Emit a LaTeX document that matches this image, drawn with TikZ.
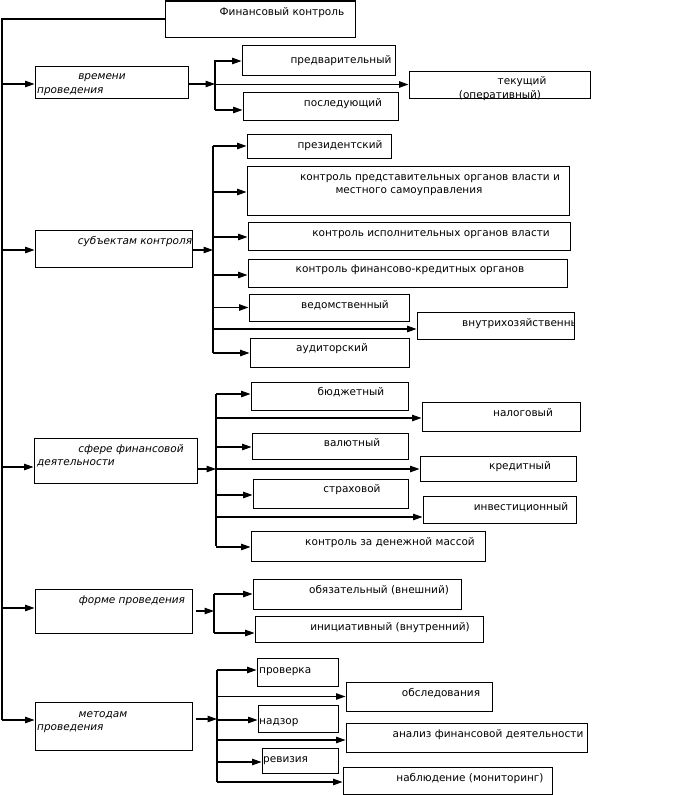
\documentclass[tikz,border=0pt]{standalone}
\usepackage{fontspec}
\setmainfont{DejaVu Sans}
\usetikzlibrary{arrows.meta}
\tikzset{
  x=1pt, y=-1pt,
  box/.style={draw=black, line width=1pt, inner sep=0pt, rectangle},
  txt/.style={inner sep=0pt, anchor=base, font=\fontsize{10.5}{12}\selectfont},
  txtw/.style={txt, anchor=base west},
  cat/.style={txt, font=\fontsize{10.5}{12}\selectfont\itshape},
  catw/.style={cat, anchor=base west},
  ln/.style={line width=1.1pt, black},
  arr/.style={ln, -{Triangle[length=9.5pt,width=6.5pt]}},
}
% \mybox{name}{x1}{y1}{x2}{y2}
\newcommand\mybox[5]{%
  \node[box, minimum width={(#4-#2)*1pt}, minimum height={(#5-#3)*1pt}]
    (#1) at ({(#2+#4)/2},{(#3+#5)/2}) {};}
% \harrow{bus}{box}{dy}: arrow from bus to the west side of box, shifted dy down
\newcommand\harrow[3]{%
  \coordinate (hh) at ([yshift={-(#3)*1pt}]#2.west);
  \draw[arr] (hh -| #1) -- (hh);}
% \outarrow{cat}{bus}{dy}{gap}
\newcommand\outarrow[4]{%
  \coordinate (oo) at ([yshift={-(#3)*1pt},xshift={(#4)*1pt}]#1.east);
  \draw[arr] (oo) -- (oo -| #2);}
% \inarrow{cat}{dy}
\newcommand\inarrow[2]{%
  \coordinate (ii) at ([yshift={-(#2)*1pt}]#1.west);
  \draw[arr] (ii -| tr) -- (ii);}
\begin{document}
\begin{tikzpicture}
\useasboundingbox (0,0) rectangle (673,795);

% ---------- boxes ----------
\mybox{top}{165}{1}{355}{37}
\mybox{c1}{35}{66}{188}{98}
\mybox{p1}{242}{45}{395}{75}
\mybox{p2}{243}{92}{398}{120}
\mybox{p3}{409}{71}{590}{98}
\mybox{c2}{35}{230}{192}{267}
\mybox{s1}{247}{134}{391}{158}
\mybox{s2}{247}{166}{569}{215}
\mybox{s3}{248}{222}{570}{250}
\mybox{s4}{248}{259}{567}{287}
\mybox{s5}{249}{294}{409}{321}
\mybox{s6}{417}{312}{574}{339}
\mybox{s7}{250}{338}{409}{367}
\mybox{c3}{34}{438}{197}{483}
\mybox{f1}{251}{382}{408}{410}
\mybox{f2}{422}{402}{580}{431}
\mybox{f3}{252}{433}{408}{459}
\mybox{f4}{420}{456}{576}{481}
\mybox{f5}{253}{479}{408}{508}
\mybox{f6}{423}{496}{576}{523}
\mybox{f7}{251}{531}{485}{561}
\mybox{c4}{35}{589}{192}{633}
\mybox{g1}{253}{579}{461}{609}
\mybox{g2}{255}{616}{483}{642}
\mybox{c5}{35}{702}{192}{750}
\mybox{m1}{257}{658}{338}{686}
\mybox{m2}{346}{682}{492}{711}
\mybox{m3}{258}{705}{338}{732}
\mybox{m4}{346}{723}{587}{752}
\mybox{m5}{262}{748}{338}{773}
\mybox{m6}{343}{767}{552}{794}

% ---------- texts ----------
\node[txt] (t0) at (282,15) {Финансовый контроль};
\node[cat] (tc1a) at (102,79) {времени};
\node[catw] (tc1b) at (37,93) {проведения};
\node[txt] (tp1) at (341,63) {предварительный};
\node[txt] (tp2) at (343,106) {последующий};
\node[txt] (tp3a) at (522,84) {текущий};
\node[txt] (tp3b) at (500,98) {(оперативный)};

\node[cat] (tc2) at (135,244) {субъектам контроля};
\node[txt] (ts1) at (340,148) {президентский};
\node[txt] (ts2a) at (430,180) {контроль представительных органов власти и};
\node[txt] (ts2b) at (409,193) {местного самоуправления};
\node[txt] (ts3) at (431,236) {контроль исполнительных органов власти};
\node[txt] (ts4) at (410,272) {контроль финансово-кредитных органов};
\node[txt] (ts5) at (345,308) {ведомственный};
\begin{scope}
  \clip (s6.south west) rectangle (s6.north east);
  \node[txtw] (ts6) at (462,326) {внутрихозяйственный};
\end{scope}
\node[txt] (ts7) at (332,351) {аудиторский};

\node[cat] (tc3a) at (131,452) {сфере финансовой};
\node[catw] (tc3b) at (37,465) {деятельности};
\node[txt] (tf1) at (351,395) {бюджетный};
\node[txt] (tf2) at (523,416) {налоговый};
\node[txt] (tf3) at (352,446) {валютный};
\node[txt] (tf4) at (520,469) {кредитный};
\node[txt] (tf5) at (352,492) {страховой};
\node[txt] (tf6) at (521,510) {инвестиционный};
\node[txt] (tf7) at (390,545) {контроль за денежной массой};

\node[cat] (tc4) at (132,603) {форме проведения};
\node[txt] (tg1) at (379,593) {обязательный (внешний)};
\node[txt] (tg2) at (390,630) {инициативный (внутренний)};

\node[cat] (tc5a) at (103,717) {методам};
\node[catw] (tc5b) at (37,730) {проведения};
\node[txtw] (tm1) at (259,673) {проверка};
\node[txt] (tm2) at (441,696) {обследования};
\node[txtw] (tm3) at (259,724) {надзор};
\node[txt] (tm4) at (488,737) {анализ финансовой деятельности};
\node[txtw] (tm5) at (263,762) {ревизия};
\node[txt] (tm6) at (470,781) {наблюдение (мониторинг)};

% ---------- trunk ----------
\coordinate (tr) at (2,0);
\coordinate (trend) at ([yshift=6pt]c5.west);
\draw[ln] (top.west) -- (top.west -| tr) -- (trend -| tr);
\inarrow{c1}{2}
\inarrow{c2}{1.5}
\inarrow{c3}{6.5}
\inarrow{c4}{-3}
\inarrow{c5}{-6}

% ---------- group 1 ----------
\coordinate (b1) at (215,0);
\outarrow{c1}{b1}{2}{0}
\draw[ln] (p1.west -| b1) -- ([yshift=-4pt]p2.west -| b1);
\harrow{b1}{p1}{1}
\harrow{b1}{p2}{4}
\harrow{b1}{p3}{0}

% ---------- group 2 ----------
\coordinate (b2) at (213,0);
\outarrow{c2}{b2}{1.5}{0}
\draw[ln] (s1.west -| b2) -- (s7.west -| b2);
\harrow{b2}{s1}{0}
\harrow{b2}{s2}{1.5}
\harrow{b2}{s3}{1}
\harrow{b2}{s4}{2}
\harrow{b2}{s5}{0}
\harrow{b2}{s6}{3.5}
\harrow{b2}{s7}{0.5}

% ---------- group 3 ----------
\coordinate (b3) at (216,0);
\outarrow{c3}{b3}{8.5}{0}
\draw[ln] ([yshift=2pt]f1.west -| b3) -- (f7.west -| b3);
\harrow{b3}{f1}{-2}
\harrow{b3}{f2}{1.5}
\harrow{b3}{f3}{1}
\harrow{b3}{f4}{0.5}
\harrow{b3}{f5}{1.5}
\harrow{b3}{f6}{7.5}
\harrow{b3}{f7}{1}

% ---------- group 4 ----------
\coordinate (b4) at (214,0);
\outarrow{c4}{b4}{0}{3}
\draw[ln] (g1.west -| b4) -- ([yshift=-4pt]g2.west -| b4);
\harrow{b4}{g1}{0}
\harrow{b4}{g2}{4}

% ---------- group 5 ----------
\coordinate (b5) at (217,0);
\outarrow{c5}{b5}{-7}{3}
\draw[ln] ([yshift=2pt]m1.west -| b5) -- ([yshift=-1.5pt]m6.west -| b5);
\harrow{b5}{m1}{-2}
\harrow{b5}{m2}{0}
\harrow{b5}{m3}{1.5}
\harrow{b5}{m4}{2.5}
\harrow{b5}{m5}{1.5}
\harrow{b5}{m6}{1.5}
\end{tikzpicture}
\end{document}
